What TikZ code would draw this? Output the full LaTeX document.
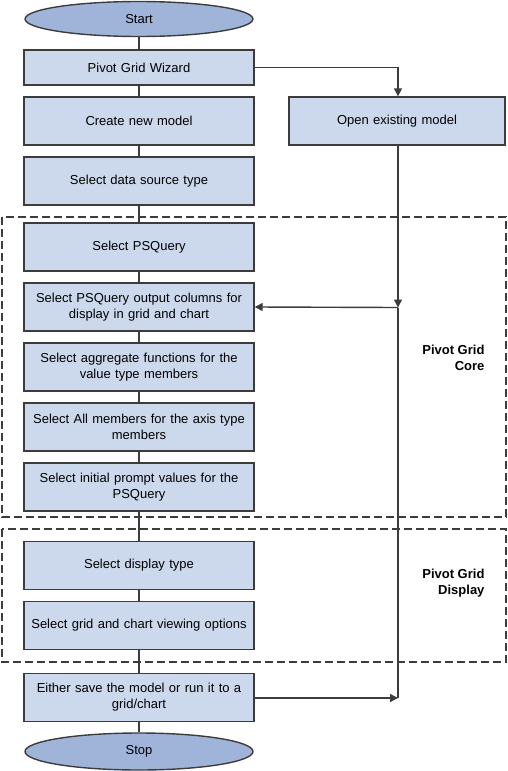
\documentclass[tikz,border=0pt]{standalone}
\usepackage{fontspec}
\setmainfont{Liberation Sans}
\usetikzlibrary{arrows.meta}
\definecolor{boxfill}{RGB}{204,217,236}
\definecolor{ellfill}{RGB}{160,180,218}
\definecolor{edge}{RGB}{60,60,60}
\tikzset{
  stepbox/.style={draw=edge, line width=1.4pt, fill=boxfill, minimum width=228pt, minimum height=48pt, inner sep=2pt, align=center, text width=226pt, font=\fontsize{13}{16}\selectfont},
  term/.style={draw=edge, line width=1.4pt, fill=ellfill, ellipse, minimum width=228pt, minimum height=35pt, inner sep=0pt, font=\fontsize{13}{14}\selectfont},
  conn/.style={draw=edge, line width=1.4pt},
  arr/.style={conn, -{Triangle[length=8pt, width=8pt]}},
  group/.style={draw=edge, line width=1.3pt, dash pattern=on 8pt off 4pt},
  glabel/.style={font=\bfseries\fontsize{13}{16}\selectfont, align=right, anchor=east}
}
\usetikzlibrary{shapes.geometric}
\begin{document}
\begin{tikzpicture}[x=1pt, y=-1pt]
\useasboundingbox (0,0) rectangle (507,771);
% groups
\draw[group] (2,217) rectangle (506,517);
\draw[group] (2,529) rectangle (506,662);
\node[glabel] (lcore) at (488,358) {Pivot Grid\\Core};
\node[glabel] (ldisp) at (488,583) {Pivot Grid\\Display};
% nodes
\node[term] (start) at (139,19) {Start};
\node[stepbox, minimum height=35pt] (wiz) at (139,67.5) {Pivot Grid Wizard};
\node[stepbox] (create) at (139,121) {Create new model};
\node[stepbox, minimum width=216pt, text width=212pt] (open) at (397,121) {Open existing model};
\node[stepbox] (dsrc) at (139,181) {Select data source type};
\node[stepbox] (psq) at (139,247) {Select PSQuery};
\node[stepbox] (cols) at (139,307) {Select PSQuery output columns for\\display in grid and chart};
\node[stepbox] (agg) at (139,367) {Select aggregate functions for the\\value type members};
\node[stepbox] (axis) at (139,427) {Select All members for the axis type\\members};
\node[stepbox] (prompt) at (139,487) {Select initial prompt values for the\\PSQuery};
\node[stepbox] (dtype) at (139,565.5) {Select display type};
\node[stepbox] (view) at (139,625.5) {Select grid and chart viewing options};
\node[stepbox] (save) at (139,697.5) {Either save the model or run it to a\\grid/chart};
\node[term, minimum height=37pt] (stop) at (139,751.5) {Stop};
\coordinate (jn) at (398,307.5);
\coordinate (jend) at (398,698);
% connectors
\draw[conn] (start) -- (wiz);
\draw[conn] (wiz) -- (create);
\draw[conn] (create) -- (dsrc);
\draw[conn] (dsrc) -- (psq);
\draw[conn] (psq) -- (cols);
\draw[conn] (cols) -- (agg);
\draw[conn] (agg) -- (axis);
\draw[conn] (axis) -- (prompt);
\draw[conn] (prompt) -- (dtype);
\draw[conn] (dtype) -- (view);
\draw[conn] (view) -- (save);
\draw[conn] (save) -- (stop);
\draw[arr] (wiz.east) -| (open.north -| jn);
\draw[arr] (open.south -| jn) -- (jn);
\draw[arr] (jn) -- (cols.east);
\draw[conn] (jn) -- (jend);
\draw[arr] (save.east |- jend) -- (jend);
\end{tikzpicture}
\end{document}
